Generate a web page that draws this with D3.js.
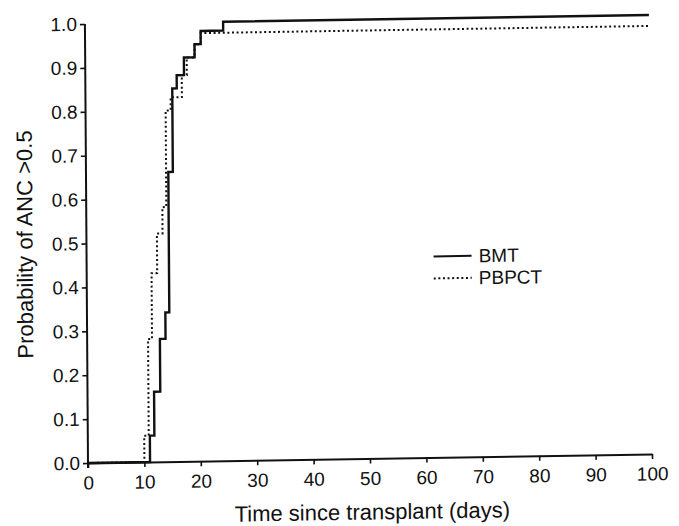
<!DOCTYPE html>
<html>
<head>
<meta charset="utf-8">
<script src="https://cdn.jsdelivr.net/npm/d3@7"></script>
<style>
  html, body { margin: 0; padding: 0; background: #fff; }
  svg text { font-family: "Liberation Sans", Arial, Helvetica, sans-serif; fill: #111; }
</style>
</head>
<body>
<svg id="chart" width="679" height="526"></svg>
<script>
// step points (day, cumulative probability)
const bmtDays = [0, 11.0, 11.8, 12.9, 13.9, 14.6, 15.4, 16.2, 17.5, 19.4, 20.5, 24.5, 100];
const bmtProb = [0, 0.06, 0.16, 0.28, 0.34, 0.66, 0.85, 0.88, 0.92, 0.95, 0.98, 1.0, 1.0];

const pbpctDays = [0, 10.0, 10.8, 11.5, 12.5, 13.5, 14.2, 15.1, 17.1, 18.0, 19.4, 20.5, 100];
const pbpctProb = [0, 0.06, 0.28, 0.43, 0.52, 0.58, 0.80, 0.83, 0.88, 0.92, 0.95, 0.975, 0.975];

const xTicks = [0, 10, 20, 30, 40, 50, 60, 70, 80, 90, 100];
const yTicks = [0, 0.1, 0.2, 0.3, 0.4, 0.5, 0.6, 0.7, 0.8, 0.9, 1.0];

const legendLabels = ["BMT", "PBPCT"];

const margin = {top: 24, right: 27, bottom: 63, left: 88},
    W = 679, H = 526,
    width = W - margin.left - margin.right,
    height = H - margin.top - margin.bottom;

const svg = d3.select("#chart");

// the scanned original is slightly skewed; mimic that around the origin
const ox = margin.left, oy = margin.top + height;
const root = svg.append("g")
    .attr("transform", `translate(${ox},${oy}) matrix(1,-0.016,0.007,1,0,0) translate(${-ox},${-oy})`);

const g = root.append("g")
    .attr("transform", `translate(${margin.left},${margin.top})`);

const x = d3.scaleLinear().domain([0, 100]).range([0, width]);
const y = d3.scaleLinear().domain([0, 1]).range([height, 0]);

const line = d3.line()
    .x(d => x(d[0]))
    .y(d => y(d[1]))
    .curve(d3.curveStepAfter);

const bmt = d3.zip(bmtDays, bmtProb),
    pbpct = d3.zip(pbpctDays, pbpctProb);

g.append("path")
    .datum(pbpct)
    .attr("fill", "none")
    .attr("stroke", "#111")
    .attr("stroke-width", 2)
    .attr("stroke-dasharray", "2,2.6")
    .attr("d", line);

g.append("path")
    .datum(bmt)
    .attr("fill", "none")
    .attr("stroke", "#111")
    .attr("stroke-width", 2.4)
    .attr("d", line);

const xAxis = g.append("g")
    .attr("transform", `translate(0,${height})`)
    .call(d3.axisBottom(x).tickValues(xTicks).tickSize(5).tickPadding(8).tickSizeOuter(0));

const yAxis = g.append("g")
    .call(d3.axisLeft(y).tickValues(yTicks).tickFormat(d3.format(".1f")).tickSize(5).tickPadding(3).tickSizeOuter(0));

[xAxis, yAxis].forEach(a => {
    a.select(".domain").attr("stroke", "#111").attr("stroke-width", 2);
    a.selectAll(".tick line").attr("stroke", "#111").attr("stroke-width", 1.6);
    a.selectAll(".tick text").style("font-size", "19px").attr("fill", "#111");
});
// y axis pokes a little below the x axis at the origin
yAxis.select(".domain").attr("d", `M0,${height + 5}V0`);

g.append("text")
    .attr("x", width / 2 + 2)
    .attr("y", height + 61)
    .attr("text-anchor", "middle")
    .style("font-size", "22px")
    .text("Time since transplant (days)");

g.append("text")
    .attr("transform", "rotate(-90)")
    .attr("x", -(height / 2))
    .attr("y", -margin.left + 34)
    .attr("text-anchor", "middle")
    .style("font-size", "22px")
    .text("Probability of ANC >0.5");

// legend
const legend = g.append("g").attr("transform", `translate(${435 - margin.left},${262 - margin.top})`);
legendLabels.forEach((lab, i) => {
    const row = legend.append("g").attr("transform", `translate(0,${i * 22})`);
    row.append("line")
        .attr("x1", 0).attr("x2", 38)
        .attr("stroke", "#111")
        .attr("stroke-width", 2)
        .attr("stroke-dasharray", i === 0 ? null : "2,2.6");
    row.append("text")
        .attr("x", 45)
        .attr("y", 6.5)
        .style("font-size", "19px")
        .text(lab);
});
</script>
</body>
</html>
